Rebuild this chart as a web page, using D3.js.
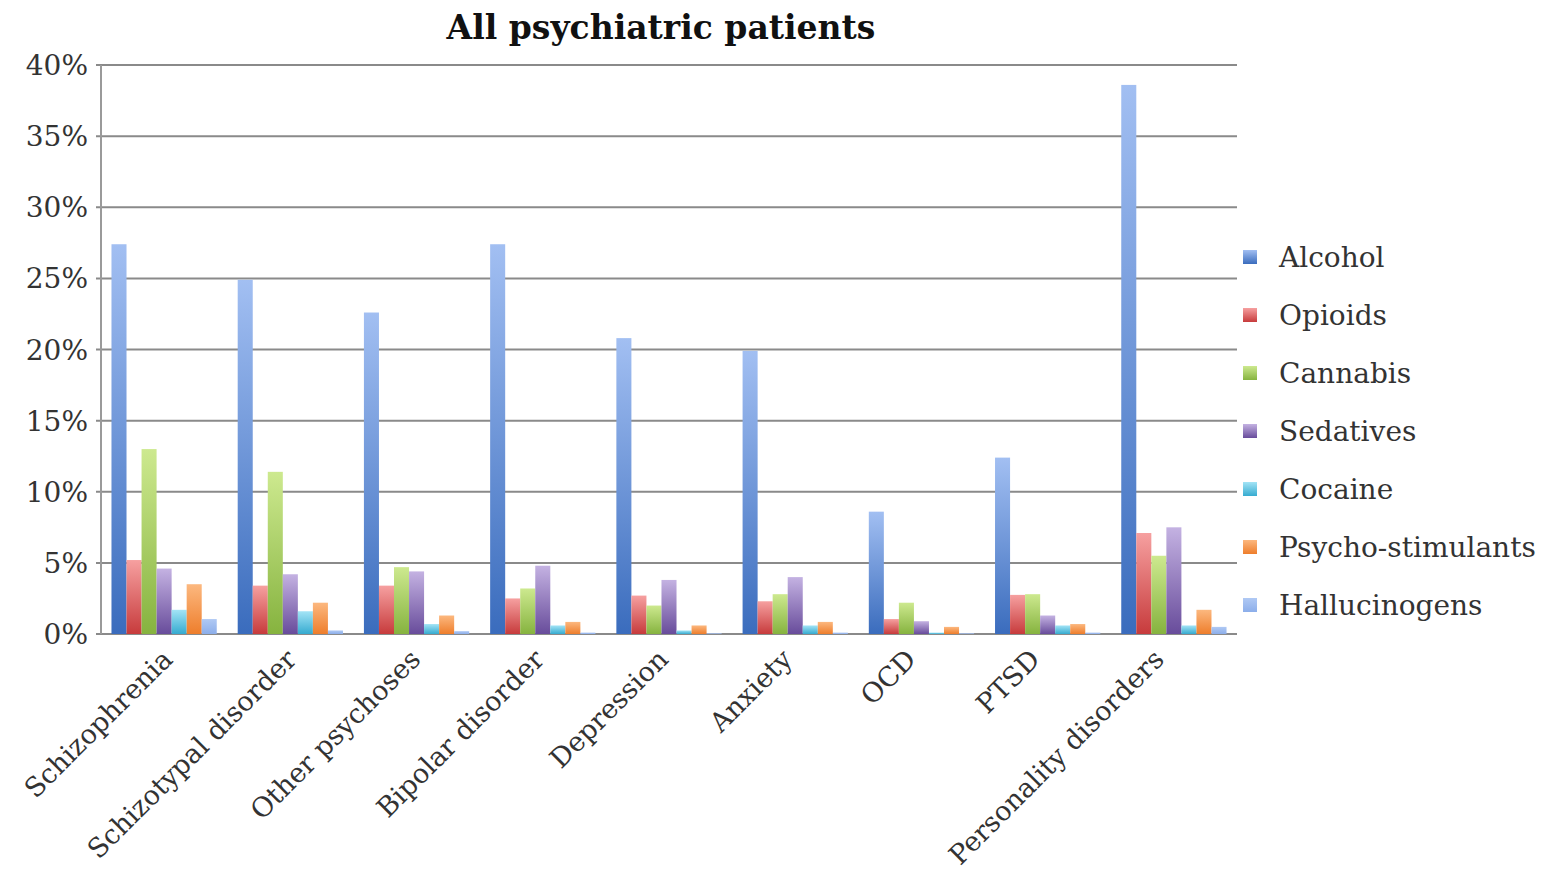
<!DOCTYPE html>
<html>
<head>
<meta charset="utf-8">
<script src="https://cdn.jsdelivr.net/npm/d3@7"></script>
<style>
  body { margin: 0; background: #fff; }
</style>
</head>
<body>
<div id="chart"></div>
<script>
// categories and series
const categories = ["Schizophrenia", "Schizotypal disorder", "Other psychoses", "Bipolar disorder",
                    "Depression", "Anxiety", "OCD", "PTSD", "Personality disorders"];
const substances = ["Alcohol", "Opioids", "Cannabis", "Sedatives", "Cocaine", "Psycho-stimulants", "Hallucinogens"];

const alcohol      = [27.4, 24.9, 22.6, 27.4, 20.8, 19.9, 8.6, 12.4, 38.6];
const opioids      = [5.2, 3.4, 3.4, 2.5, 2.7, 2.3, 1.05, 2.75, 7.1];
const cannabis     = [13.0, 11.4, 4.7, 3.2, 2.0, 2.8, 2.2, 2.8, 5.5];
const sedatives    = [4.6, 4.2, 4.4, 4.8, 3.8, 4.0, 0.9, 1.3, 7.5];
const cocaine      = [1.7, 1.6, 0.7, 0.6, 0.25, 0.6, 0.1, 0.6, 0.6];
const psychoStim   = [3.5, 2.2, 1.3, 0.85, 0.6, 0.85, 0.5, 0.7, 1.7];
const hallucinogen = [1.05, 0.25, 0.2, 0.1, 0.05, 0.1, 0.05, 0.1, 0.5];

const yTicks = [0, 5, 10, 15, 20, 25, 30, 35, 40];

const series = [alcohol, opioids, cannabis, sedatives, cocaine, psychoStim, hallucinogen];
// light top / dark bottom, like the office gradient fills
const colors = [
  ["#a2bff2", "#3a6cbd"],
  ["#f6a0a0", "#c73b3c"],
  ["#cde98f", "#86b33f"],
  ["#c4b2e2", "#684c9b"],
  ["#a3e4f6", "#36abd0"],
  ["#fcb87f", "#ee7e2c"],
  ["#b0c9f4", "#8caeea"]
];

const width = 1542, height = 875;
const margin = {top: 65, right: 305, bottom: 241, left: 101};
const font = "DejaVu Serif";

const svg = d3.select("#chart").append("svg")
  .attr("width", width).attr("height", height);

const defs = svg.append("defs");
colors.forEach((c, i) => {
  let g = defs.append("linearGradient").attr("id", "grad" + i)
    .attr("x1", 0).attr("y1", 0).attr("x2", 0).attr("y2", 1);
  g.append("stop").attr("offset", "0%").attr("stop-color", c[0]);
  g.append("stop").attr("offset", "100%").attr("stop-color", c[1]);
});

const x0 = d3.scaleBand().domain(categories)
  .range([margin.left, width - margin.right]).padding(0);
const groupPad = x0.bandwidth() * 0.083;
const x1 = d3.scaleBand().domain(d3.range(substances.length))
  .range([groupPad, x0.bandwidth() - groupPad]).padding(0);
const y = d3.scaleLinear().domain([0, 40]).range([height - margin.bottom, margin.top]);

// gridlines
svg.append("g")
  .selectAll("line").data(yTicks).enter().append("line")
  .attr("x1", margin.left - 5).attr("x2", width - margin.right)
  .attr("y1", d => y(d)).attr("y2", d => y(d))
  .style("stroke", "#8a8a8a").style("stroke-width", 2);

// left axis line
svg.append("line")
  .attr("x1", margin.left).attr("x2", margin.left)
  .attr("y1", y(40)).attr("y2", y(0))
  .style("stroke", "#9a9a9a").style("stroke-width", 2);

// y tick labels
svg.append("g")
  .selectAll("text").data(yTicks).enter().append("text")
  .attr("x", 88).attr("y", d => y(d) + 10)
  .attr("text-anchor", "end")
  .attr("font-family", font)
  .attr("font-size", "28px")
  .attr("fill", "#333")
  .text(d => d + "%");

// bars
const groups = svg.append("g").selectAll("g")
  .data(categories).enter().append("g")
  .attr("transform", d => "translate(" + x0(d) + ",0)");

groups.selectAll("rect")
  .data((d, ci) => series.map((s, si) => ({si: si, v: s[ci]})))
  .enter().append("rect")
  .attr("x", d => x1(d.si))
  .attr("width", x1.bandwidth())
  .attr("y", d => y(d.v))
  .attr("height", d => y(0) - y(d.v))
  .attr("fill", d => "url(#grad" + d.si + ")");

// x labels, rotated
svg.append("g")
  .selectAll("text").data(categories).enter().append("text")
  .attr("transform", (d, i) => "translate(" + (x0(d) + x0.bandwidth() / 2 + 10 - i * 2.3) + "," + (y(0) + 27) + ") rotate(-45)")
  .attr("text-anchor", "end")
  .attr("font-family", font)
  .attr("font-size", "27px")
  .attr("fill", "#333")
  .text(d => d);

// title
svg.append("text")
  .attr("x", 661).attr("y", 39)
  .attr("text-anchor", "middle")
  .attr("font-family", font)
  .attr("font-weight", "bold")
  .attr("font-size", "33px")
  .attr("fill", "#111")
  .text("All psychiatric patients");

// legend
const legend = svg.append("g").selectAll("g")
  .data(substances).enter().append("g")
  .attr("transform", (d, i) => "translate(1243," + (257 + i * 58) + ")");

legend.append("rect")
  .attr("x", 0).attr("y", -7)
  .attr("width", 14).attr("height", 14)
  .attr("fill", (d, i) => "url(#grad" + i + ")");

legend.append("text")
  .attr("x", 36).attr("y", 10)
  .attr("font-family", font)
  .attr("font-size", "28px")
  .attr("fill", "#333")
  .text(d => d);
</script>
</body>
</html>
